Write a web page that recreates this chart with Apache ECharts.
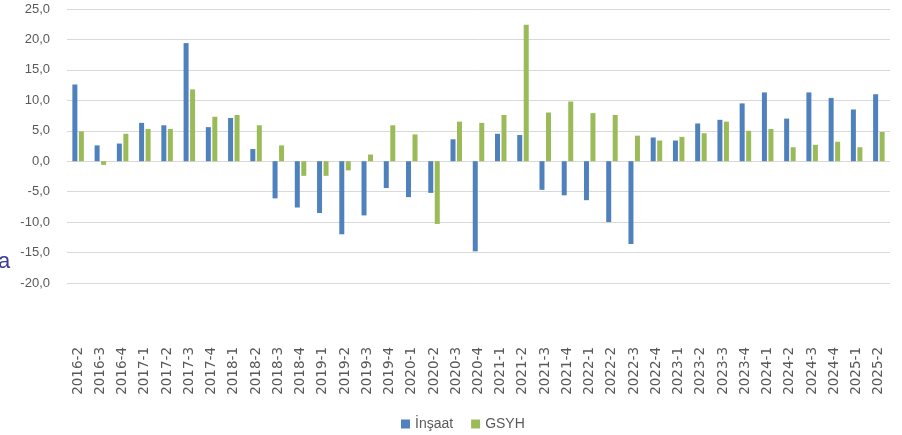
<!DOCTYPE html>
<html>
<head>
<meta charset="utf-8">
<script src="https://cdn.jsdelivr.net/npm/echarts@6/dist/echarts.min.js"></script>
<style>
  html, body { margin: 0; padding: 0; background: #fff; }
  #chart { width: 902px; height: 435px; }
</style>
</head>
<body>
<div id="chart"></div>
<script>
// çeyrekler
const quarters = [
  '2016-2', '2016-3', '2016-4',
  '2017-1', '2017-2', '2017-3', '2017-4',
  '2018-1', '2018-2', '2018-3', '2018-4',
  '2019-1', '2019-2', '2019-3', '2019-4',
  '2020-1', '2020-2', '2020-3', '2020-4',
  '2021-1', '2021-2', '2021-3', '2021-4',
  '2022-1', '2022-2', '2022-3', '2022-4',
  '2023-1', '2023-2', '2023-3', '2023-4',
  '2024-1', '2024-2', '2024-3', '2024-4',
  '2025-1', '2025-2'
]

const insaat = [
  12.6, 2.6, 2.9,
  6.3, 5.9, 19.4, 5.6,
  7.1, 2.0, -6.1, -7.6,
  -8.5, -12.0, -8.9, -4.4,
  -5.9, -5.2, 3.6, -14.8,
  4.5, 4.3, -4.7, -5.6,
  -6.4, -10.0, -13.6, 3.9,
  3.4, 6.2, 6.8, 9.5,
  11.3, 7.0, 11.3, 10.4,
  8.5, 11.0
]

const gsyh = [
  4.9, -0.6, 4.5,
  5.3, 5.3, 11.8, 7.3,
  7.6, 5.9, 2.6, -2.4,
  -2.4, -1.5, 1.1, 5.9,
  4.4, -10.3, 6.5, 6.3,
  7.6, 22.4, 8.0, 9.8,
  7.9, 7.6, 4.2, 3.4,
  4.0, 4.6, 6.5, 5.0,
  5.3, 2.3, 2.7, 3.2,
  2.3, 4.8
]

const seriesNames = ['İnşaat', 'GSYH']

const chart = echarts.init(document.getElementById('chart'))

const font = "'Liberation Sans Narrow', 'Liberation Sans', sans-serif"

const option = {
  animation: false,
  legend: {
    data: seriesNames,
    top: 412,
    left: 396,
    itemWidth: 9,
    itemHeight: 9,
    itemGap: 18,
    icon: 'rect',
    textStyle: { color: '#595959', fontSize: 14, fontFamily: font }
  },
  grid: {
    left: 67,
    right: 12,
    top: 9,
    bottom: 152
  },
  xAxis: {
    type: 'category',
    data: quarters,
    axisLine: { show: false, onZero: false },
    axisTick: { show: false },
    axisLabel: {
      interval: 0,
      rotate: 90,
      margin: 64,
      color: '#595959',
      fontSize: 13.5,
      fontFamily: "'DejaVu Sans', sans-serif"
    }
  },
  yAxis: {
    type: 'value',
    min: -20,
    max: 25,
    interval: 5,
    axisLine: { show: false },
    axisTick: { show: false },
    splitLine: { lineStyle: { color: '#d9d9d9', width: 1 } },
    axisLabel: {
      margin: 17,
      color: '#595959',
      fontSize: 13,
      fontFamily: font,
      formatter: v => v.toFixed(1).replace('.', ',')
    }
  },
  graphic: [
    {
      type: 'text',
      left: -2,
      top: 251,
      style: { text: 'a', fill: '#3b3b98', fontSize: 22, fontFamily: font }
    }
  ],
  series: [
    {
      name: seriesNames[0],
      type: 'bar',
      data: insaat,
      barWidth: 5,
      barGap: '30%',
      itemStyle: { color: '#4f81bd' }
    },
    {
      name: seriesNames[1],
      type: 'bar',
      data: gsyh,
      barWidth: 5,
      itemStyle: { color: '#9bbb59' }
    }
  ]
}

chart.setOption(option)
</script>
</body>
</html>
